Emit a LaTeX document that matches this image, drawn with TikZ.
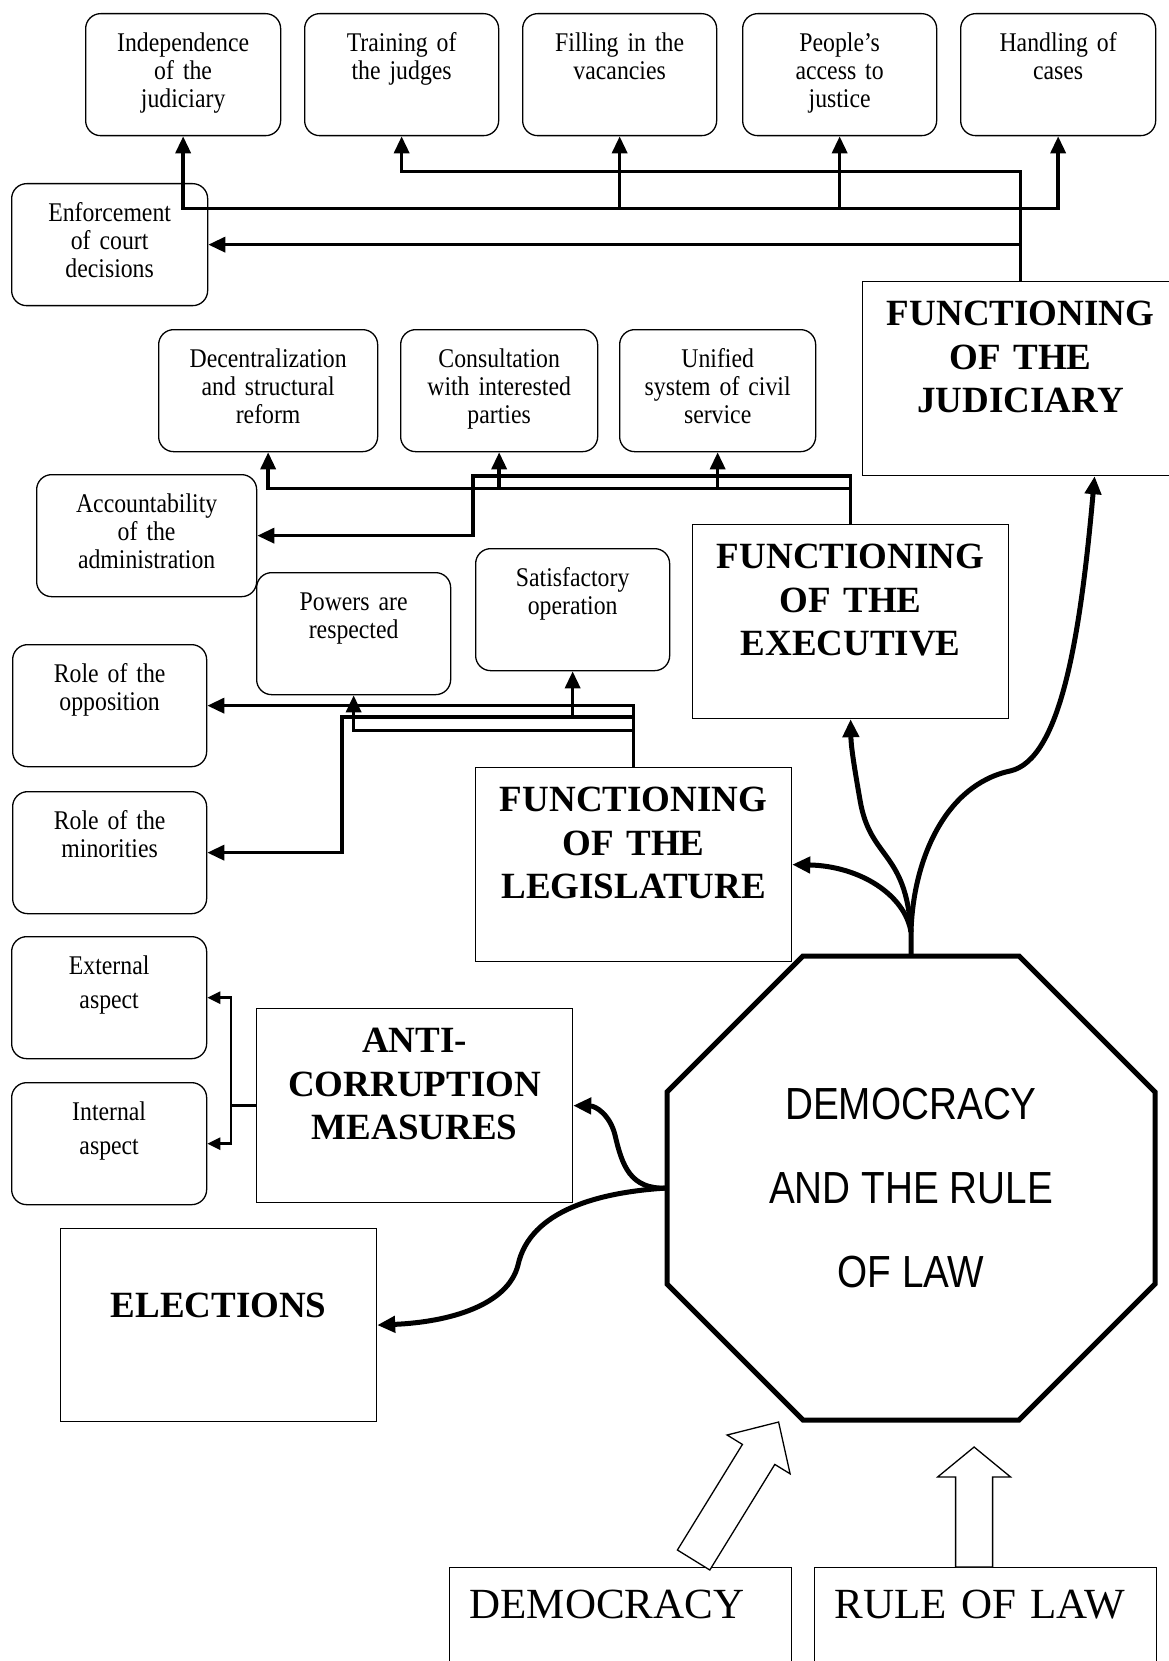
\documentclass[tikz,border=0pt]{standalone}
\usepackage{fontspec}
\setmainfont{Liberation Serif}
\newfontfamily\boxserif[FakeStretch=0.88]{Liberation Serif}
\newfontfamily\octsans[FakeStretch=0.86]{Liberation Sans}
\newcommand\boxtext{\boxserif\fontsize{27}{28}\selectfont\spaceskip=3.6pt plus 1pt minus 1pt\relax}
\newcommand\boxtextwide{\boxserif\fontsize{27}{34}\selectfont\spaceskip=3.6pt plus 1pt minus 1pt\relax}
\newcommand\headtext{\bfseries\fontsize{37}{43.5}\selectfont}
\newcommand\octtext{\octsans\fontsize{45}{84}\selectfont}
\newcommand\basetext{\fontsize{43}{50}\selectfont}
\usetikzlibrary{arrows.meta}
\begin{document}
\begin{tikzpicture}[x=1pt, y=-1pt,
    smallbox/.style={draw, line width=1.3pt, rounded corners=15pt, inner sep=0pt,
        anchor=north west, align=center, text width=#1, text height=38pt,
        text depth=84pt, font=\boxtext},
    smallbox/.default=195pt,
    bigbox/.style={draw, line width=1.2pt, inner sep=0pt, anchor=north west,
        align=center, text width=316pt, text height=44pt, text depth=150pt,
        font=\headtext},
    basebox/.style={draw, line width=1.2pt, inner xsep=20pt, inner ysep=0pt,
        anchor=north west, align=left, text width=302pt, text height=51pt,
        text depth=80pt, font=\basetext},
    wire/.style={line width=3.5pt, -{Triangle[length=17pt,width=15pt]}},
    branch/.style={line width=2.5pt, -{Triangle[length=13pt,width=12pt]}},
    limb/.style={line width=5pt, -{Triangle[length=18pt,width=16pt]}},
    hollow/.style={draw, line width=1.3pt, fill=white}]
    \useasboundingbox (0,0) rectangle (1168,1661);

    % Draw the judiciary topics
    \node[smallbox] (indep) at (85,13) {Independence\\of the\\judiciary};
    \node[smallbox=194pt] (train) at (304,13) {Training of\\the judges};
    \node[smallbox=194pt] (fill) at (522,13) {Filling in the\\vacancies};
    \node[smallbox=194pt] (peop) at (742,13) {People’s\\access to\\justice};
    \node[smallbox] (handl) at (960,13) {Handling of\\cases};
    \node[smallbox=196pt] (enf) at (11,183) {Enforcement\\of court\\decisions};

    % Draw the executive topics
    \node[smallbox=219pt] (decen) at (158,329) {Decentralization\\and structural\\reform};
    \node[smallbox=197pt] (consu) at (400,329) {Consultation\\with interested\\parties};
    \node[smallbox=196pt] (unif) at (619,329) {Unified\\system of civil\\service};
    \node[smallbox=220pt] (acc) at (36,474) {Accountability\\of the\\administration};

    % Draw the legislature topics
    \node[smallbox=194pt] (powers) at (256,572) {Powers are\\respected};
    \node[smallbox=194pt] (satis) at (475,548) {Satisfactory\\operation};
    \node[smallbox=194pt] (oppo) at (12,644) {Role of the\\opposition};
    \node[smallbox=194pt] (mino) at (12,791) {Role of the\\minorities};

    % Draw the anti-corruption topics
    \node[smallbox, font=\boxtextwide] (ext) at (11,936) {External\\aspect};
    \node[smallbox, font=\boxtextwide] (inter) at (11,1082) {Internal\\aspect};

    % Draw the main areas
    \node[bigbox] (jud) at (862,281) {FUNCTIONING\\OF THE\\JUDICIARY};
    \node[bigbox] (exec) at (692,524) {FUNCTIONING\\OF THE\\EXECUTIVE};
    \node[bigbox] (legis) at (475,767) {FUNCTIONING\\OF THE\\LEGISLATURE};
    \node[bigbox] (anti) at (256,1008) {ANTI-\\CORRUPTION\\MEASURES};
    \node[bigbox, text height=89pt, text depth=104pt] (elect) at (60,1228) {ELECTIONS};

    % Draw the octagon
    \node[minimum width=488pt, minimum height=464pt, inner sep=0pt, outer sep=0pt,
        align=center, font=\octtext] (rol) at (911,1188) {DEMOCRACY\\AND THE RULE\\OF LAW};
    \draw[line width=5pt, line join=miter] ([xshift=136pt]rol.north west)
        -- ([xshift=-136pt]rol.north east) -- ([yshift=-136pt]rol.north east)
        -- ([yshift=136pt]rol.south east) -- ([xshift=-136pt]rol.south east)
        -- ([xshift=136pt]rol.south west) -- ([yshift=136pt]rol.south west)
        -- ([yshift=-136pt]rol.north west) -- cycle;

    % Draw the two sources
    \node[basebox] (democ) at (449,1567) {DEMOCRACY};
    \node[basebox] (rule) at (814,1567) {RULE OF LAW};

    % Add the judiciary arrows
    \draw[wire] (jud.north) |- ([yshift=-35pt]train.south) -- (train.south);
    \draw[wire] (jud.north) |- ([yshift=-72pt]indep.south) -- (indep.south);
    \draw[wire] (jud.north) |- ([yshift=-72pt]handl.south) -- (handl.south);
    \draw[wire] ([yshift=-72pt]fill.south) -- (fill.south);
    \draw[wire] ([yshift=-72pt]peop.south) -- (peop.south);
    \draw[wire] (jud.north) |- (enf.east);

    % Add the executive arrows
    \coordinate (accbend) at (473,476);
    \draw[wire] (exec.north) |- ([yshift=-36pt]decen.south) -- (decen.south);
    \draw[wire] ([yshift=-36pt]consu.south) -- (consu.south);
    \draw[wire] ([yshift=-36pt]unif.south) -- (unif.south);
    \draw[wire] (exec.north) |- (accbend) |- (acc.east);

    % Add the legislature arrows
    \coordinate (minobend) at (342,717);
    \draw[wire] (legis.north) |- (oppo.east);
    \draw[wire] (legis.north) |- ([yshift=-35pt]powers.south) -- (powers.south);
    \draw[wire] (legis.north) |- (minobend) |- (mino.east);
    \draw[wire] (satis.south |- minobend) -- (satis.south);

    % Add the anti-corruption arrows
    \draw[branch] (anti.west) -- ++(-25,0) |- (ext.east);
    \draw[branch] (anti.west) -- ++(-25,0) |- (inter.east);

    % Add the curved arrows out of the octagon
    \draw[limb] (rol.north) -- ++(0,-24) coordinate (stem)
        .. controls (913,860) and (945,785) .. (1010,771)
        .. controls (1060,760) and (1080,640) .. ([xshift=74pt]jud.south);
    \draw[limb] (stem) .. controls (906,850) and (870,860) .. (860,800)
        .. controls (853,760) and (851,745) .. (exec.south);
    \draw[limb] (stem) .. controls (905,895) and (860,866) .. (legis.east);
    \draw[limb] (rol.west) .. controls (630,1190) and (622,1165) .. (615,1135)
        .. controls (610,1115) and (596,1106) .. (anti.east);
    \draw[limb] (rol.west) .. controls (600,1192) and (530,1210) .. (518,1265)
        .. controls (508,1305) and (450,1322) .. (elect.east);

    % Add the hollow arrows into the octagon
    \coordinate (dembase) at ([xshift=73pt, yshift=7pt]democ.north);
    \begin{scope}[shift={(dembase)}]
        \draw[hollow] (-16.2,-10) -- (48.8,-115.6) -- (33.5,-125) -- (85,-138)
            -- (96.5,-86.2) -- (81.2,-95.6) -- (16.2,10) -- cycle;
    \end{scope}
    \coordinate (rulbase) at ([xshift=-11.5pt]rule.north);
    \begin{scope}[shift={(rulbase)}]
        \draw[hollow] (-18.5,0) -- (-18.5,-90) -- (-36.5,-90) -- (0,-120)
            -- (36.5,-90) -- (18.5,-90) -- (18.5,0) -- cycle;
    \end{scope}
\end{tikzpicture}
\end{document}
